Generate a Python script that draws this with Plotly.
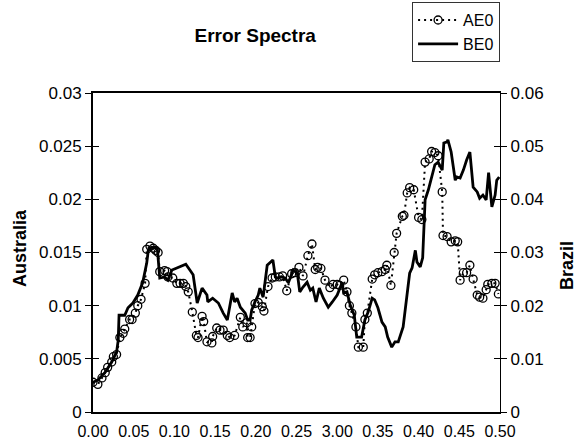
import plotly.graph_objects as go

# ---------------- data ----------------
ae0_freq = [0.000, 0.006, 0.011, 0.015, 0.018, 0.023, 0.025, 0.029, 0.033, 0.037,
            0.039, 0.045, 0.048, 0.052, 0.055, 0.059, 0.064, 0.066, 0.070, 0.074,
            0.077, 0.080, 0.082, 0.088, 0.091, 0.092, 0.098, 0.103, 0.107, 0.111,
            0.114, 0.117, 0.122, 0.127, 0.129, 0.134, 0.136, 0.140, 0.146, 0.147,
            0.152, 0.156, 0.160, 0.165, 0.168, 0.174, 0.181, 0.184, 0.189, 0.190,
            0.193, 0.195, 0.199, 0.203, 0.208, 0.210, 0.215, 0.220, 0.224, 0.229,
            0.233, 0.238, 0.244, 0.248, 0.253, 0.258, 0.264, 0.269, 0.273, 0.276,
            0.280, 0.285, 0.291, 0.295, 0.300, 0.303, 0.308, 0.312, 0.315, 0.318,
            0.323, 0.326, 0.332, 0.334, 0.337, 0.343, 0.346, 0.350, 0.355, 0.359,
            0.361, 0.366, 0.370, 0.373, 0.380, 0.382, 0.386, 0.389, 0.394, 0.400,
            0.404, 0.408, 0.413, 0.416, 0.420, 0.424, 0.429, 0.430, 0.435, 0.440,
            0.445, 0.448, 0.451, 0.455, 0.459, 0.463, 0.467, 0.472, 0.475, 0.479,
            0.483, 0.485, 0.490, 0.494, 0.498]
ae0_values = [0.0028, 0.0026, 0.0032, 0.0037, 0.0042, 0.0047, 0.0052, 0.0054, 0.0070, 0.0074,
              0.0078, 0.0087, 0.0087, 0.0093, 0.0100, 0.0106, 0.0121, 0.0153, 0.0156, 0.0154,
              0.0152, 0.0150, 0.0132, 0.0133, 0.0132, 0.0127, 0.0126, 0.0121, 0.0121, 0.0121,
              0.0118, 0.0113, 0.0094, 0.0072, 0.0070, 0.0090, 0.0085, 0.0066, 0.0065, 0.0071,
              0.0079, 0.0077, 0.0077, 0.0072, 0.0070, 0.0072, 0.0089, 0.0080, 0.0084, 0.0070,
              0.0070, 0.0080, 0.0102, 0.0103, 0.0099, 0.0095, 0.0118, 0.0126, 0.0127, 0.0127,
              0.0128, 0.0114, 0.0130, 0.0131, 0.0136, 0.0128, 0.0147, 0.0158, 0.0134, 0.0136,
              0.0135, 0.0124, 0.0117, 0.0120, 0.0120, 0.0119, 0.0124, 0.0113, 0.0100, 0.0093,
              0.0080, 0.0061, 0.0061, 0.0087, 0.0093, 0.0125, 0.0129, 0.0131, 0.0132, 0.0134,
              0.0138, 0.0119, 0.0150, 0.0168, 0.0184, 0.0185, 0.0206, 0.0211, 0.0209, 0.0183,
              0.0181, 0.0235, 0.0238, 0.0245, 0.0244, 0.0241, 0.0207, 0.0166, 0.0165, 0.0160,
              0.0161, 0.0160, 0.0124, 0.0131, 0.0131, 0.0138, 0.0125, 0.0110, 0.0108, 0.0107,
              0.0115, 0.0120, 0.0121, 0.0121, 0.0111]

be0_freq = [0.000, 0.006, 0.015, 0.023, 0.029, 0.031, 0.032, 0.039, 0.043, 0.049,
            0.055, 0.061, 0.066, 0.068, 0.072, 0.079, 0.082, 0.088, 0.092, 0.097,
            0.103, 0.114, 0.119, 0.123, 0.128, 0.134, 0.140, 0.141, 0.147, 0.154,
            0.160, 0.165, 0.171, 0.174, 0.177, 0.181, 0.187, 0.190, 0.193, 0.195,
            0.199, 0.203, 0.205, 0.209, 0.214, 0.221, 0.224, 0.227, 0.232, 0.236,
            0.240, 0.246, 0.251, 0.254, 0.258, 0.263, 0.267, 0.270, 0.274, 0.278,
            0.283, 0.289, 0.294, 0.300, 0.306, 0.308, 0.312, 0.316, 0.321, 0.324,
            0.330, 0.334, 0.338, 0.343, 0.346, 0.350, 0.355, 0.359, 0.362, 0.367,
            0.371, 0.375, 0.381, 0.386, 0.389, 0.392, 0.396, 0.398, 0.402, 0.405,
            0.408, 0.412, 0.416, 0.420, 0.424, 0.429, 0.431, 0.435, 0.436, 0.440,
            0.445, 0.447, 0.451, 0.455, 0.459, 0.463, 0.467, 0.472, 0.475, 0.479,
            0.483, 0.486, 0.490, 0.494, 0.496, 0.499]
be0_values = [0.0056, 0.0060, 0.0075, 0.0094, 0.0113, 0.0135, 0.0182, 0.0182, 0.0196, 0.0205,
              0.0220, 0.0243, 0.0280, 0.0305, 0.0310, 0.0308, 0.0252, 0.0254, 0.0248, 0.0267,
              0.0271, 0.0278, 0.0267, 0.0258, 0.0205, 0.0233, 0.0220, 0.0207, 0.0214, 0.0205,
              0.0186, 0.0173, 0.0224, 0.0207, 0.0214, 0.0197, 0.0186, 0.0173, 0.0173, 0.0192,
              0.0207, 0.0220, 0.0233, 0.0216, 0.0276, 0.0286, 0.0254, 0.0252, 0.0254, 0.0252,
              0.0243, 0.0267, 0.0261, 0.0226, 0.0235, 0.0244, 0.0229, 0.0233, 0.0207, 0.0233,
              0.0214, 0.0197, 0.0207, 0.0220, 0.0243, 0.0224, 0.0226, 0.0201, 0.0182, 0.0141,
              0.0141, 0.0173, 0.0188, 0.0214, 0.0211, 0.0196, 0.0169, 0.0160, 0.0141, 0.0122,
              0.0132, 0.0132, 0.0160, 0.0226, 0.0261, 0.0271, 0.0304, 0.0282, 0.0273, 0.0290,
              0.0399, 0.0418, 0.0442, 0.0465, 0.0470, 0.0455, 0.0506, 0.0508, 0.0512, 0.0489,
              0.0436, 0.0442, 0.0440, 0.0455, 0.0474, 0.0489, 0.0423, 0.0414, 0.0402, 0.0408,
              0.0399, 0.0450, 0.0386, 0.0408, 0.0436, 0.0442]

x_tickvals = [0.00, 0.05, 0.10, 0.15, 0.20, 0.25, 0.30, 0.35, 0.40, 0.45, 0.50]
x_ticktext = ["0.00", "0.05", "0.10", "0.15", "0.20", "0.25", "3.00", "0.35", "0.40", "0.45", "0.50"]
left_tickvals = [0, 0.005, 0.01, 0.015, 0.02, 0.025, 0.03]
left_ticktext = ["0", "0.005", "0.01", "0.015", "0.02", "0.025", "0.03"]
right_tickvals = [0, 0.01, 0.02, 0.03, 0.04, 0.05, 0.06]
right_ticktext = ["0", "0.01", "0.02", "0.03", "0.04", "0.05", "0.06"]

FONT = "Arial, Liberation Sans, Helvetica, sans-serif"

fig = go.Figure()
fig.add_trace(go.Scatter(
    x=ae0_freq, y=ae0_values, name="AE0", mode="lines+markers",
    line=dict(color="black", width=2, dash="2px,4px"),
    marker=dict(symbol="circle-open", size=8, color="black", line=dict(width=1.3)),
    yaxis="y"))
fig.add_trace(go.Scatter(
    x=be0_freq, y=be0_values, name="BE0", mode="lines",
    line=dict(color="black", width=2.8),
    yaxis="y2"))

fig.update_layout(
    width=580, height=443,
    margin=dict(l=93, r=80, t=93, b=31, autoexpand=False),
    paper_bgcolor="white", plot_bgcolor="white",
    font=dict(family=FONT, size=16, color="black"),
    title=dict(text="<b>Error Spectra</b>", x=0.44, xref="container", xanchor="center",
               y=0.921, yref="container", yanchor="middle",
               font=dict(size=19, family=FONT, color="black")),
    showlegend=True,
    legend=dict(x=0.784, y=1.285, xanchor="left", yanchor="top",
                bordercolor="#333", borderwidth=1, bgcolor="white",
                font=dict(size=16, family=FONT, color="black"),
                itemwidth=40, tracegroupgap=0),
    xaxis=dict(range=[0, 0.5], tickvals=x_tickvals, ticktext=x_ticktext,
               showline=True, linecolor="black", linewidth=2, mirror=True,
               ticks="", showgrid=False, zeroline=False, ticklabelstandoff=4,
               tickfont=dict(size=16, family=FONT, color="black")),
    yaxis=dict(range=[0, 0.03], tickvals=left_tickvals, ticktext=left_ticktext,
               showline=True, linecolor="black", linewidth=2,
               ticks="outside", ticklen=6, tickwidth=1, tickcolor="black",
               showgrid=False, zeroline=False,
               tickfont=dict(size=17, family=FONT, color="black")),
    yaxis2=dict(range=[0, 0.06], tickvals=right_tickvals, ticktext=right_ticktext,
                overlaying="y", side="right",
                showline=True, linecolor="black", linewidth=1.3,
                ticks="outside", ticklen=6, tickwidth=1, tickcolor="black",
                showgrid=False, zeroline=False,
                tickfont=dict(size=17, family=FONT, color="black")),
    yaxis3=dict(range=[0, 0.03], tickvals=left_tickvals, overlaying="y", side="left",
                ticks="inside", ticklen=6, tickwidth=1, tickcolor="black",
                showticklabels=False, showgrid=False, zeroline=False, showline=False),
    yaxis4=dict(range=[0, 0.06], tickvals=right_tickvals, overlaying="y", side="right",
                ticks="inside", ticklen=6, tickwidth=1, tickcolor="black",
                showticklabels=False, showgrid=False, zeroline=False, showline=False),
    annotations=[
        dict(text="<b>Australia</b>", xref="paper", yref="paper", x=-0.209, y=0.514,
             textangle=-90, showarrow=False, font=dict(size=18, family=FONT, color="black")),
        dict(text="<b>Brazil</b>", xref="paper", yref="paper", x=1.194, y=0.461,
             textangle=-90, showarrow=False, font=dict(size=18, family=FONT, color="black")),
    ],
)
# invisible helper traces so the overlay tick axes are drawn
fig.add_trace(go.Scatter(x=[0], y=[0], yaxis="y3", showlegend=False, hoverinfo="skip",
                         mode="markers", marker=dict(opacity=0)))
fig.add_trace(go.Scatter(x=[0], y=[0], yaxis="y4", showlegend=False, hoverinfo="skip",
                         mode="markers", marker=dict(opacity=0)))

fig.write_html("out.html")
